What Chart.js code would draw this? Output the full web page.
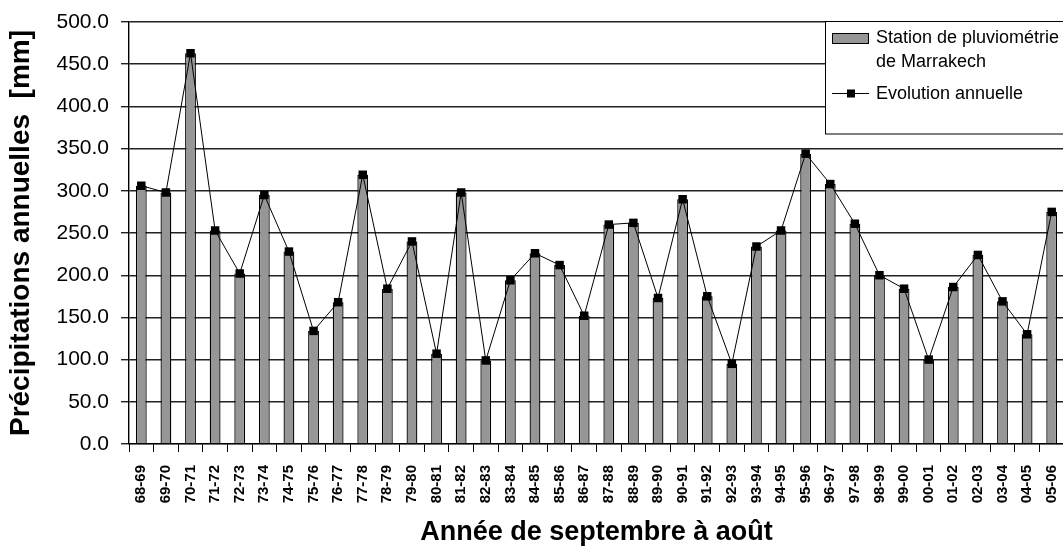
<!DOCTYPE html>
<html>
<head>
<meta charset="utf-8">
<script src="https://cdn.jsdelivr.net/npm/chart.js@4/dist/chart.umd.min.js"></script>
<style>
html,body{margin:0;padding:0;background:#fff;overflow:hidden;}
#wrap{width:1070px;height:550px;}
</style>
</head>
<body>
<div id="wrap"><canvas id="rainChart" width="1070" height="550"></canvas></div>
<script>
// annees hydrologiques (septembre a aout)
const years = ["68-69","69-70","70-71","71-72","72-73","73-74","74-75","75-76","76-77","77-78",
"78-79","79-80","80-81","81-82","82-83","83-84","84-85","85-86","86-87","87-88",
"88-89","89-90","90-91","91-92","92-93","93-94","94-95","95-96","96-97","97-98",
"98-99","99-00","00-01","01-02","02-03","03-04","04-05","05-06"];

// precipitations annuelles en mm
const precip = [306,298,463,253,202,295,228,134,168,319,
184,240,107,298,99,194,226,212,152,260,
262,173,290,175,95,234,253,344,308,261,
200,184,100,186,224,169,130,275];

const yTicks = [0,50,100,150,200,250,300,350,400,450,500];

const barLabel = ["Station de pluviométrie","de Marrakech"];
const lineLabel = "Evolution annuelle";

const fontFam = "'Liberation Sans', Arial, sans-serif";
const barGray = "#969696";

// legende encadree en haut a droite
const boxLegend = {
  id:"boxLegend",
  afterDraw(chart){
    const ctx = chart.ctx;
    ctx.save();
    ctx.fillStyle="#fff";
    ctx.strokeStyle="#000";
    ctx.lineWidth=1;
    ctx.fillRect(825.5,21.5,260,112.5);
    ctx.strokeRect(825.5,21.5,260,112.5);

    ctx.fillStyle=barGray;
    ctx.fillRect(832.5,33.5,36,10);
    ctx.strokeRect(832.5,33.5,36,10);

    ctx.beginPath();
    ctx.moveTo(832,93.5);
    ctx.lineTo(869,93.5);
    ctx.stroke();
    ctx.fillStyle="#000";
    ctx.fillRect(847,89.5,8,8);

    ctx.font="18px "+fontFam;
    ctx.textBaseline="alphabetic";
    ctx.fillText(barLabel[0],876,43);
    ctx.fillText(barLabel[1],876,67);
    ctx.fillText(lineLabel,876,99);
    ctx.restore();
  }
};

new Chart(document.getElementById("rainChart"),{
  type:"bar",
  data:{
    labels:years,
    datasets:[{
      type:"line",
      label:lineLabel,
      data:precip,
      borderColor:"#000",
      borderWidth:1,
      backgroundColor:"#000",
      pointStyle:"rect",
      pointRadius:6,
      pointBackgroundColor:"#000",
      pointBorderWidth:0,
      tension:0,
      order:0
    },{
      label:barLabel.join(" "),
      data:precip,
      backgroundColor:barGray,
      borderColor:"#000",
      borderWidth:1.3,
      barPercentage:0.44,
      categoryPercentage:1,
      order:1
    }]
  },
  options:{
    responsive:false,
    animation:false,
    devicePixelRatio:1,
    layout:{padding:{top:22,right:6,left:0,bottom:0}},
    plugins:{legend:{display:false},tooltip:{enabled:false}},
    scales:{
      x:{
        afterFit(scale){
          scale.height=106;
          scale.paddingLeft=0;
          scale.paddingRight=0;
        },
        grid:{drawOnChartArea:false,drawTicks:true,tickLength:8,color:"#000",offset:true},
        border:{display:true,color:"#000",width:1.3},
        ticks:{
          minRotation:90,maxRotation:90,autoSkip:false,padding:13,
          color:"#000",font:{family:fontFam,size:15,weight:"bold"}
        },
        title:{
          display:true,text:"Année de septembre à août",color:"#000",
          font:{family:fontFam,size:27,weight:"bold"},padding:{top:0,bottom:1}
        }
      },
      y:{
        min:0,max:500,
        afterFit(scale){
          scale.width=129;
          scale.paddingTop=0;
          scale.paddingBottom=0;
        },
        afterBuildTicks(scale){ scale.ticks=yTicks.map(v=>({value:v})); },
        grid:{color:"#222",lineWidth:1.4,tickLength:8,drawTicks:true},
        border:{display:true,color:"#000",width:1.4},
        ticks:{
          padding:12,color:"#000",
          font:{family:fontFam,size:21},
          callback:v=>Number(v).toFixed(1)
        },
        title:{
          display:true,text:"Précipitations annuelles  [mm]",color:"#000",
          font:{family:fontFam,size:28,weight:"bold"},padding:{top:4,bottom:0}
        }
      }
    }
  },
  plugins:[boxLegend]
});
</script>
</body>
</html>
